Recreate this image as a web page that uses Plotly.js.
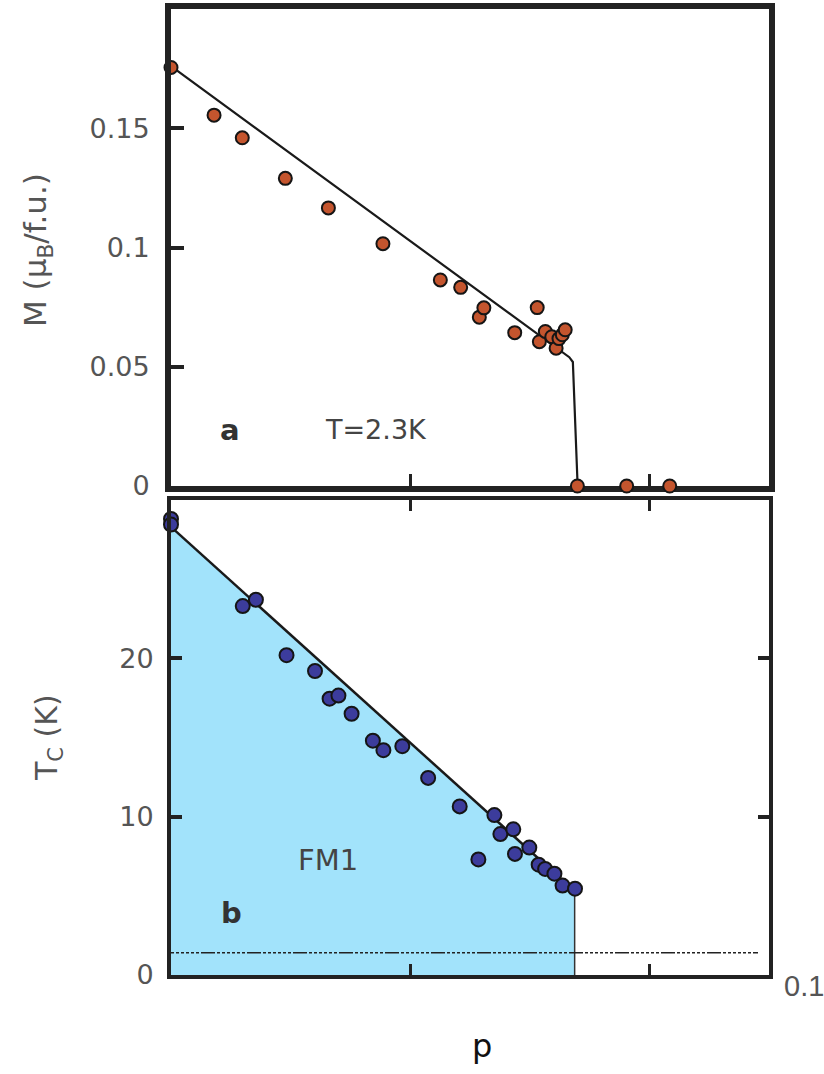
<!DOCTYPE html>
<html>
<head>
<meta charset="utf-8">
<script src="https://cdn.plot.ly/plotly-3.0.1.min.js"></script>
<style>html,body{margin:0;padding:0;background:#fff;}#chart{width:824px;height:1074px;}</style>
</head>
<body>
<div id="chart"></div>
<script>
// Panel a: magnetisation at T = 2.3 K
const magP = [0, 0.18, 0.298, 0.478, 0.658, 0.886, 1.126, 1.211, 1.289, 1.308, 1.437, 1.531, 1.54, 1.565, 1.592, 1.61, 1.622, 1.636, 1.648, 1.699, 1.905, 2.085];
const magM = [0.1755, 0.1555, 0.146, 0.129, 0.1166, 0.1016, 0.0864, 0.0833, 0.0708, 0.0747, 0.0643, 0.0748, 0.0605, 0.0648, 0.0626, 0.0578, 0.0618, 0.0634, 0.0655, 0, 0, 0];
const magLineP = [0, 1.60, 1.665, 1.68, 1.70];
const magLineM = [0.176, 0.0585, 0.054, 0.052, 0];

// Panel b: Curie temperature
const tcP = [0, 0, 0.30, 0.355, 0.483, 0.602, 0.663, 0.70, 0.755, 0.844, 0.888, 0.967, 1.075, 1.207, 1.285, 1.352, 1.377, 1.431, 1.438, 1.498, 1.537, 1.564, 1.603, 1.637, 1.689];
const tcT = [28.8, 28.45, 23.3, 23.7, 20.2, 19.2, 17.45, 17.65, 16.5, 14.8, 14.2, 14.45, 12.45, 10.65, 7.3, 10.1, 8.9, 9.2, 7.65, 8.05, 6.97, 6.7, 6.4, 5.65, 5.45];
const fmBoundP = [0, 1.6875, 1.6875];
const fmBoundT = [28.3, 5.3, 0];
const refLineP = [0, 2.454];
const refLineT = [1.4, 1.4];

const magTicks = [0, 0.05, 0.1, 0.15];
const magTickText = ['0', '0.05', '0.1', '0.15'];
const tcTicks = [0, 10, 20];
const tcTickText = ['0', '10', '20'];
const pTicks = [1, 2];

const FONT = 'DejaVu Sans, Arial, sans-serif';
const GRAY = '#555555';

const traces = [
  {x: fmBoundP, y: fmBoundT, xaxis: 'x', yaxis: 'y', mode: 'lines', fill: 'tozeroy',
   fillcolor: '#a2e3fb', line: {width: 0, color: 'rgba(0,0,0,0)'}, hoverinfo: 'skip', showlegend: false},
  {x: fmBoundP.slice(0, 2), y: fmBoundT.slice(0, 2), xaxis: 'x', yaxis: 'y', mode: 'lines',
   line: {color: '#1a1a1a', width: 2.5}, showlegend: false},
  {x: fmBoundP.slice(1), y: fmBoundT.slice(1), xaxis: 'x', yaxis: 'y', mode: 'lines',
   line: {color: '#333', width: 1.5}, showlegend: false},
  {x: refLineP, y: refLineT, xaxis: 'x', yaxis: 'y', mode: 'lines',
   line: {color: '#222', width: 1.5, dash: '3px,2px,3px,2px,3px,2px,3px,2px,3px,2px,3px,2px,14px,2px'}, showlegend: false},
  {x: tcP, y: tcT, xaxis: 'x', yaxis: 'y', mode: 'markers', cliponaxis: false,
   marker: {size: 14, color: '#3c3c9c', line: {color: '#151515', width: 2}}, showlegend: false},
  {x: magLineP, y: magLineM, xaxis: 'x2', yaxis: 'y2', mode: 'lines',
   line: {color: '#1a1a1a', width: 2.2}, showlegend: false},
  {x: magP, y: magM, xaxis: 'x2', yaxis: 'y2', mode: 'markers', cliponaxis: false,
   marker: {size: 13, color: '#c4552e', line: {color: '#151515', width: 2}}, showlegend: false}
];

const W = 824, H = 1074, L = 171, R = 55, T = 9, B = 99;
const pw = W - L - R, ph = H - T - B;
const px = v => (v - L) / pw;
const py = v => (H - B - v) / ph;

const tickFont = {family: FONT, size: 27, color: GRAY};

const layout = {
  width: W, height: H,
  margin: {l: L, r: R, t: T, b: B, pad: 0},
  paper_bgcolor: '#ffffff', plot_bgcolor: '#ffffff',
  showlegend: false,
  xaxis: {domain: [0, 1], anchor: 'y', range: [0, 2.5], showline: true, linewidth: 4, linecolor: '#222',
          mirror: 'ticks', ticks: 'inside', tickvals: pTicks, ticklen: 11, tickwidth: 3, tickcolor: '#222',
          showticklabels: false, showgrid: false, zeroline: false},
  yaxis: {domain: [0, py(500)], anchor: 'x', range: [0, 30], showline: true, linewidth: 4, linecolor: '#222',
          mirror: 'ticks', ticks: 'inside', tickvals: tcTicks, ticktext: tcTickText, ticklen: 11, tickwidth: 4,
          tickcolor: '#222', tickfont: tickFont, showgrid: false, zeroline: false, ticklabelstandoff: 8},
  xaxis2: {domain: [0, 1], anchor: 'y2', range: [0, 2.5], showline: true, linewidth: 6, linecolor: '#222',
           mirror: true, ticks: 'inside', tickvals: pTicks, ticklen: 12, tickwidth: 3, tickcolor: '#222',
           showticklabels: false, showgrid: false, zeroline: false, layer: 'below traces'},
  yaxis2: {domain: [py(486), 1], anchor: 'x2', range: [0, 0.2], showline: true, linewidth: 6, linecolor: '#222',
           mirror: true, ticks: 'inside', tickvals: magTicks, ticktext: magTickText, ticklen: 13, tickwidth: 4,
           tickcolor: '#222', tickfont: tickFont, showgrid: false, zeroline: false, ticklabelstandoff: 10},
  annotations: [
    {text: 'M (μ<sub>B</sub>/f.u.)', xref: 'paper', yref: 'paper', x: px(37), y: py(250), textangle: -90,
     xanchor: 'center', yanchor: 'middle', showarrow: false, font: {family: FONT, size: 31, color: GRAY}},
    {text: 'T<sub>C</sub> (K)', xref: 'paper', yref: 'paper', x: px(48), y: py(738), textangle: -90,
     xanchor: 'center', yanchor: 'middle', showarrow: false, font: {family: FONT, size: 30, color: GRAY}},
    {text: '<b>a</b>', xref: 'paper', yref: 'paper', x: px(230), y: py(430), xanchor: 'center', yanchor: 'middle',
     showarrow: false, font: {family: FONT, size: 29, color: '#333'}},
    {text: 'T=2.3K', xref: 'paper', yref: 'paper', x: px(376), y: py(430), xanchor: 'center', yanchor: 'middle',
     showarrow: false, font: {family: FONT, size: 27, color: '#444'}},
    {text: '<b>b</b>', xref: 'paper', yref: 'paper', x: px(231), y: py(913), xanchor: 'center', yanchor: 'middle',
     showarrow: false, font: {family: FONT, size: 29, color: '#333'}},
    {text: 'FM1', xref: 'paper', yref: 'paper', x: px(328), y: py(860), xanchor: 'center', yanchor: 'middle',
     showarrow: false, font: {family: FONT, size: 29, color: '#444'}},
    {text: '0.1', xref: 'paper', yref: 'paper', x: px(782), y: py(986), xanchor: 'left', yanchor: 'middle',
     showarrow: false, font: {family: 'Liberation Sans, Arial, sans-serif', size: 29, color: GRAY}},
    {text: 'p', xref: 'paper', yref: 'paper', x: px(482), y: py(1046), xanchor: 'center', yanchor: 'middle',
     showarrow: false, font: {family: FONT, size: 32, color: '#111'}}
  ]
};

Plotly.newPlot('chart', traces, layout, {displayModeBar: false, responsive: false});
</script>
</body>
</html>
